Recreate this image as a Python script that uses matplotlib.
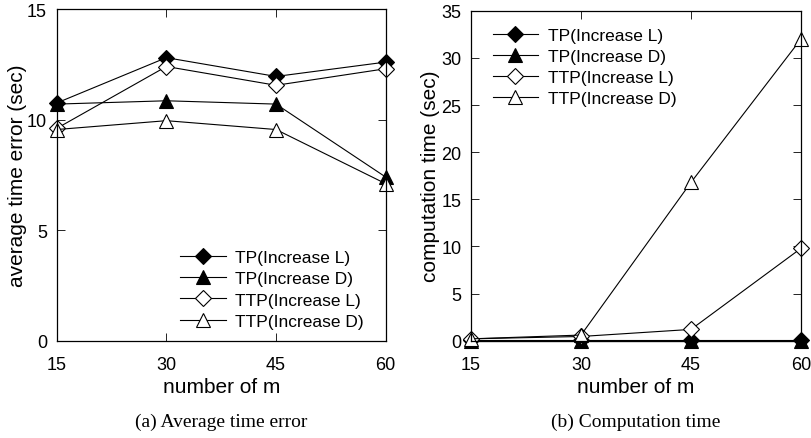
import matplotlib
matplotlib.use("Agg")
import matplotlib.pyplot as plt

plt.rcParams['font.family'] = ['Liberation Sans', 'DejaVu Sans']

m_values = [15, 30, 45, 60]

# (a) average time error (sec)
err_tp_L = [10.75, 12.8, 11.95, 12.6]
err_tp_D = [10.7, 10.85, 10.7, 7.4]
err_ttp_L = [9.6, 12.4, 11.55, 12.3]
err_ttp_D = [9.55, 9.95, 9.55, 7.1]

# (b) computation time (sec)
comp_tp_L = [0.05, 0.05, 0.05, 0.05]
comp_tp_D = [0.0, 0.0, 0.0, 0.0]
comp_ttp_L = [0.2, 0.45, 1.2, 9.8]
comp_ttp_D = [0.2, 0.6, 16.8, 32.0]

labels = ['TP(Increase L)', 'TP(Increase D)', 'TTP(Increase L)', 'TTP(Increase D)']
markers = ['D', '^', 'D', '^']
fills = ['k', 'k', 'white', 'white']
sizes = [8, 9.5, 8, 10]

fig = plt.figure(figsize=(8.11, 4.39), dpi=100)
ax1 = fig.add_axes([0.0699, 0.2216, 0.4057, 0.7556])
ax2 = fig.add_axes([0.5808, 0.2216, 0.4069, 0.7517])


def draw(ax, series, ylim, yticks, ylabel, legend_loc, anchor):
    for vals, lab, mk, fc, ms in zip(series, labels, markers, fills, sizes):
        ax.plot(m_values, vals, color='k', lw=0.8, marker=mk, markersize=ms,
                markerfacecolor=fc, markeredgecolor='k', markeredgewidth=0.8,
                label=lab, clip_on=False)
    ax.set_xlim(15, 60)
    ax.set_ylim(*ylim)
    ax.set_xticks(m_values)
    ax.set_yticks(yticks)
    ax.tick_params(direction='in', length=6, width=0.6, top=True, right=True,
                   labelsize=13)
    ax.tick_params(axis='x', pad=11)
    ax.tick_params(axis='y', pad=7)
    for s in ax.spines.values():
        s.set_linewidth(0.9)
    ax.set_xlabel('number of m', fontsize=15, labelpad=3)
    ax.set_ylabel(ylabel, fontsize=15, labelpad=0)
    ax.legend(loc=legend_loc, bbox_to_anchor=anchor, frameon=False, fontsize=12.5,
              handlelength=2.6, handletextpad=0.55, labelspacing=0.35,
              borderaxespad=0.0)


draw(ax1, [err_tp_L, err_tp_D, err_ttp_L, err_ttp_D], (0, 15), [0, 5, 10, 15],
     'average time error (sec)', 'lower left', (0.355, 0.015))
draw(ax2, [comp_tp_L, comp_tp_D, comp_ttp_L, comp_ttp_D], (0, 35),
     [0, 5, 10, 15, 20, 25, 30, 35], 'computation time (sec)', 'upper left', (0.045, 0.97))
ax2.yaxis.labelpad = 1

fig.text(0.2725, 0.038, '(a) Average time error', ha='center', va='center',
         fontsize=14, family='Liberation Serif')
fig.text(0.784, 0.038, '(b) Computation time', ha='center', va='center',
         fontsize=14, family='Liberation Serif')

fig.savefig('out.png', dpi=100)
